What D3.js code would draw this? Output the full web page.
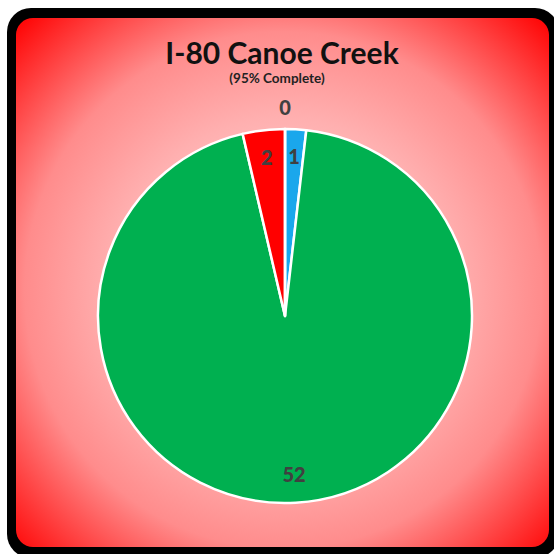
<html>
  <head>
    <script src="https://cdn.jsdelivr.net/npm/d3@7"></script>
    <style>
      body { margin: 0; background: #fff; }
    </style>
  </head>
  <body>
    <div id="container"></div>
  </body>
  <script>
    // chart data
    const categories = ["In Progress", "Complete", "Not Started", "Other"];
    const values = [1, 52, 2, 0];
    const colors = ["#1aa7ec", "#00b050", "#ff0000", "#7f7f7f"];
    const title = "I-80 Canoe Creek";
    const subtitle = "(95% Complete)";

    function drawSVG() {
      const svgW = 554,
        svgH = 554,
        cx = 285,
        cy = 316,
        radius = 187;

      const svg = d3
        .create("svg")
        .attr("width", svgW)
        .attr("height", svgH);

      const defs = svg.append("defs");
      const grad = defs
        .append("radialGradient")
        .attr("id", "bg")
        .attr("gradientUnits", "userSpaceOnUse")
        .attr("cx", 283)
        .attr("cy", 290)
        .attr("r", 380);
      grad.append("stop").attr("offset", "0%").attr("stop-color", "#ffe0e0");
      grad.append("stop").attr("offset", "45%").attr("stop-color", "#ffb0b0");
      grad.append("stop").attr("offset", "68%").attr("stop-color", "#ff8c8c");
      grad.append("stop").attr("offset", "100%").attr("stop-color", "#ff0000");

      // frame
      svg
        .append("rect")
        .attr("x", 7)
        .attr("y", 8)
        .attr("width", 552)
        .attr("height", 550)
        .attr("rx", 24)
        .style("fill", "#000");
      svg
        .append("rect")
        .attr("x", 16)
        .attr("y", 18)
        .attr("width", 533)
        .attr("height", 529)
        .attr("rx", 17)
        .style("fill", "url(#bg)");

      svg
        .append("text")
        .attr("x", 282)
        .attr("y", 64)
        .attr("text-anchor", "middle")
        .style("font-family", "Lato, 'Open Sans', sans-serif")
        .style("font-weight", "bold")
        .style("font-size", "30px")
        .style("fill", "#111")
        .text(title);
      svg
        .append("text")
        .attr("x", 277)
        .attr("y", 83)
        .attr("text-anchor", "middle")
        .style("font-family", "Lato, 'Open Sans', sans-serif")
        .style("font-weight", "bold")
        .style("font-size", "13.5px")
        .style("fill", "#222")
        .text(subtitle);

      const pie = d3.pie().sort(null).value((d) => d);
      const arcs = pie(values);
      const arc = d3.arc().innerRadius(0).outerRadius(radius);
      const labelArc = d3.arc().innerRadius(159).outerRadius(159);
      const outerArc = d3.arc().innerRadius(208).outerRadius(208);

      const g = svg.append("g").attr("transform", `translate(${cx},${cy})`);
      g.selectAll("path")
        .data(arcs)
        .join("path")
        .attr("d", arc)
        .style("fill", (d, i) => colors[i])
        .style("stroke", "#fff")
        .style("stroke-width", 2.5)
        .style("stroke-linejoin", "round");

      g.selectAll("text")
        .data(arcs)
        .join("text")
        .attr("transform", (d) => {
          const c = d.value === 0 ? outerArc.centroid(d) : labelArc.centroid(d);
          return `translate(${c[0]},${c[1]})`;
        })
        .attr("dy", "0.35em")
        .attr("text-anchor", "middle")
        .style("font-family", "Lato, 'Open Sans', sans-serif")
        .style("font-weight", "900")
        .style("font-size", "20px")
        .style("fill", "#404040")
        .text((d) => d.value);

      container.append(svg.node());
    }
    drawSVG();
  </script>
</html>
